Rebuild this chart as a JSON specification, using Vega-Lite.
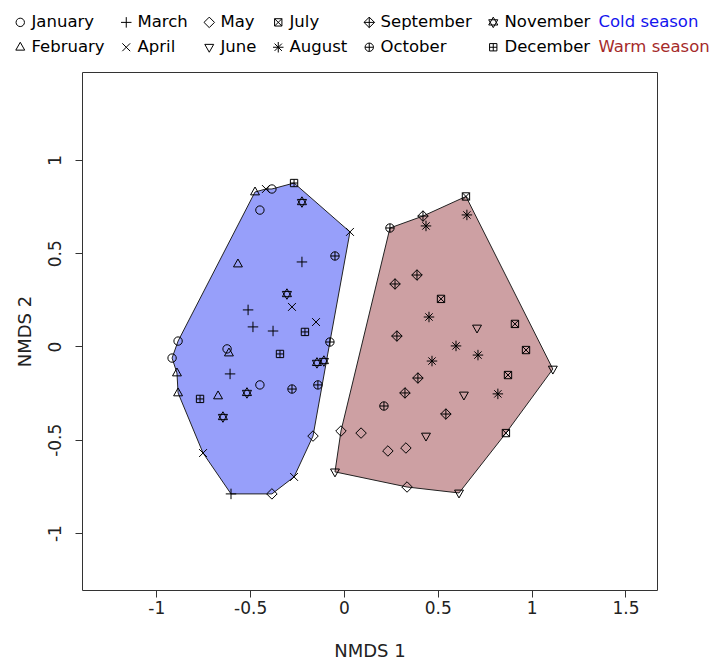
{
  "$schema": "https://vega.github.io/schema/vega-lite/v6.json",
  "width": 575,
  "height": 518,
  "autosize": {"type": "none"},
  "padding": {"left": 82, "top": 72, "right": 55, "bottom": 69},
  "background": "white",
  "datasets": {
    "hulls": [
      {"season": "Cold season", "i": 1, "x": -0.474, "y": 0.828},
      {"season": "Cold season", "i": 2, "x": -0.416, "y": 0.844},
      {"season": "Cold season", "i": 3, "x": -0.384, "y": 0.844},
      {"season": "Cold season", "i": 4, "x": -0.266, "y": 0.876},
      {"season": "Cold season", "i": 5, "x": 0.032, "y": 0.614},
      {"season": "Cold season", "i": 6, "x": -0.075, "y": 0.024},
      {"season": "Cold season", "i": 7, "x": -0.165, "y": -0.48},
      {"season": "Cold season", "i": 8, "x": -0.266, "y": -0.699},
      {"season": "Cold season", "i": 9, "x": -0.384, "y": -0.79},
      {"season": "Cold season", "i": 10, "x": -0.602, "y": -0.79},
      {"season": "Cold season", "i": 11, "x": -0.751, "y": -0.571},
      {"season": "Cold season", "i": 12, "x": -0.884, "y": -0.249},
      {"season": "Cold season", "i": 13, "x": -0.89, "y": -0.142},
      {"season": "Cold season", "i": 14, "x": -0.916, "y": -0.062},
      {"season": "Cold season", "i": 15, "x": -0.884, "y": 0.029},
      {"season": "Warm season", "i": 1, "x": 0.245, "y": 0.635},
      {"season": "Warm season", "i": 2, "x": 0.421, "y": 0.699},
      {"season": "Warm season", "i": 3, "x": 0.65, "y": 0.804},
      {"season": "Warm season", "i": 4, "x": 1.113, "y": -0.121},
      {"season": "Warm season", "i": 5, "x": 0.863, "y": -0.464},
      {"season": "Warm season", "i": 6, "x": 0.613, "y": -0.785},
      {"season": "Warm season", "i": 7, "x": 0.336, "y": -0.753},
      {"season": "Warm season", "i": 8, "x": -0.048, "y": -0.672},
      {"season": "Warm season", "i": 9, "x": -0.016, "y": -0.453}
    ],
    "points": [
      {"month": "January", "x": -0.884, "y": 0.029},
      {"month": "January", "x": -0.916, "y": -0.062},
      {"month": "January", "x": -0.623, "y": -0.013},
      {"month": "January", "x": -0.448, "y": -0.206},
      {"month": "January", "x": -0.448, "y": 0.731},
      {"month": "January", "x": -0.384, "y": 0.844},
      {"month": "February", "x": -0.474, "y": 0.828},
      {"month": "February", "x": -0.565, "y": 0.442},
      {"month": "February", "x": -0.613, "y": -0.035},
      {"month": "February", "x": -0.89, "y": -0.142},
      {"month": "February", "x": -0.884, "y": -0.249},
      {"month": "February", "x": -0.671, "y": -0.265},
      {"month": "March", "x": -0.224, "y": 0.453},
      {"month": "March", "x": -0.511, "y": 0.196},
      {"month": "March", "x": -0.485, "y": 0.105},
      {"month": "March", "x": -0.378, "y": 0.083},
      {"month": "March", "x": -0.607, "y": -0.147},
      {"month": "March", "x": -0.602, "y": -0.79},
      {"month": "April", "x": -0.416, "y": 0.844},
      {"month": "April", "x": 0.032, "y": 0.614},
      {"month": "April", "x": -0.277, "y": 0.212},
      {"month": "April", "x": -0.149, "y": 0.131},
      {"month": "April", "x": -0.751, "y": -0.571},
      {"month": "April", "x": -0.266, "y": -0.699},
      {"month": "May", "x": -0.165, "y": -0.48},
      {"month": "May", "x": -0.384, "y": -0.79},
      {"month": "May", "x": -0.016, "y": -0.453},
      {"month": "May", "x": 0.091, "y": -0.464},
      {"month": "May", "x": 0.234, "y": -0.56},
      {"month": "May", "x": 0.33, "y": -0.544},
      {"month": "May", "x": 0.336, "y": -0.753},
      {"month": "June", "x": -0.048, "y": -0.672},
      {"month": "June", "x": 0.437, "y": -0.48},
      {"month": "June", "x": 0.613, "y": -0.785},
      {"month": "June", "x": 0.639, "y": -0.26},
      {"month": "June", "x": 0.709, "y": 0.099},
      {"month": "June", "x": 1.113, "y": -0.121},
      {"month": "July", "x": 0.65, "y": 0.804},
      {"month": "July", "x": 0.517, "y": 0.255},
      {"month": "July", "x": 0.911, "y": 0.121},
      {"month": "July", "x": 0.97, "y": -0.019},
      {"month": "July", "x": 0.874, "y": -0.153},
      {"month": "July", "x": 0.863, "y": -0.464},
      {"month": "August", "x": 0.655, "y": 0.705},
      {"month": "August", "x": 0.437, "y": 0.646},
      {"month": "August", "x": 0.453, "y": 0.158},
      {"month": "August", "x": 0.597, "y": 0.003},
      {"month": "August", "x": 0.714, "y": -0.046},
      {"month": "August", "x": 0.469, "y": -0.078},
      {"month": "August", "x": 0.82, "y": -0.254},
      {"month": "September", "x": 0.421, "y": 0.699},
      {"month": "September", "x": 0.389, "y": 0.383},
      {"month": "September", "x": 0.272, "y": 0.335},
      {"month": "September", "x": 0.282, "y": 0.056},
      {"month": "September", "x": 0.394, "y": -0.169},
      {"month": "September", "x": 0.325, "y": -0.249},
      {"month": "September", "x": 0.543, "y": -0.362},
      {"month": "October", "x": -0.048, "y": 0.485},
      {"month": "October", "x": -0.075, "y": 0.024},
      {"month": "October", "x": -0.139, "y": -0.206},
      {"month": "October", "x": -0.277, "y": -0.228},
      {"month": "October", "x": 0.245, "y": 0.635},
      {"month": "October", "x": 0.213, "y": -0.319},
      {"month": "November", "x": -0.224, "y": 0.774},
      {"month": "November", "x": -0.304, "y": 0.281},
      {"month": "November", "x": -0.144, "y": -0.088},
      {"month": "November", "x": -0.107, "y": -0.078},
      {"month": "November", "x": -0.517, "y": -0.249},
      {"month": "November", "x": -0.645, "y": -0.378},
      {"month": "December", "x": -0.266, "y": 0.876},
      {"month": "December", "x": -0.208, "y": 0.078},
      {"month": "December", "x": -0.341, "y": -0.04},
      {"month": "December", "x": -0.767, "y": -0.281}
    ]
  },
  "layer": [
    {
      "data": {"name": "hulls"},
      "mark": {"type": "line", "interpolate": "linear-closed", "filled": true, "stroke": "#222222", "strokeWidth": 1, "opacity": 1},
      "encoding": {
        "x": {"field": "x", "type": "quantitative"},
        "y": {"field": "y", "type": "quantitative"},
        "order": {"field": "i", "type": "quantitative"},
        "color": {
          "field": "season", "type": "nominal",
          "scale": {"domain": ["Cold season", "Warm season"], "range": ["#979FFA", "#CDA0A3"]},
          "legend": {
            "orient": "none", "legendX": 500, "legendY": -58, "title": null,
            "direction": "vertical", "symbolSize": 0, "symbolOpacity": 0, "symbolStrokeWidth": 0,
            "labelOffset": 0, "rowPadding": 8, "padding": 0,
            "labelFont": "DejaVu Sans", "labelFontSize": 16.5,
            "labelColor": {"expr": "datum.value == 'Cold season' ? '#1414EE' : '#A52A2A'"}
          }
        }
      }
    },
    {
      "data": {"name": "points"},
      "mark": {"type": "point", "filled": false, "color": "black", "strokeWidth": 1, "size": 110, "opacity": 1},
      "encoding": {
        "x": {"field": "x", "type": "quantitative", "scale": {"domain": [-1.396, 1.668], "nice": false, "zero": false},
          "axis": {"title": "NMDS 1", "values": [-1, -0.5, 0, 0.5, 1, 1.5], "labelExpr": "toString(datum.value)", "labelPadding": 3, "titlePadding": 26}},
        "y": {"field": "y", "type": "quantitative", "scale": {"domain": [-1.305, 1.471], "nice": false, "zero": false},
          "axis": {"title": "NMDS 2", "values": [-1, -0.5, 0, 0.5, 1], "labelExpr": "toString(datum.value)", "labelAngle": -90, "labelAlign": "center", "labelBaseline": "bottom", "labelPadding": 11, "titlePadding": 12}},
        "shape": {
          "field": "month", "type": "nominal",
          "scale": {
            "domain": ["January", "March", "May", "July", "September", "November", "February", "April", "June", "August", "October", "December"],
            "range": [
              "M0.8,0A0.8,0.8 0 1,1 -0.8,0A0.8,0.8 0 1,1 0.8,0Z",
              "M-1,0L1,0M0,-1L0,1",
              "M0,-1L1,0L0,1L-1,0Z",
              "M-0.7,-0.7L0.7,-0.7L0.7,0.7L-0.7,0.7ZM-0.7,-0.7L0.7,0.7M-0.7,0.7L0.7,-0.7",
              "M0,-1L1,0L0,1L-1,0ZM-1,0L1,0M0,-1L0,1",
              "M0,-1L0.87,0.5L-0.87,0.5ZM0,1L0.87,-0.5L-0.87,-0.5Z",
              "M0,-0.95L0.85,0.55L-0.85,0.55Z",
              "M-0.75,-0.75L0.75,0.75M-0.75,0.75L0.75,-0.75",
              "M0,0.95L0.85,-0.55L-0.85,-0.55Z",
              "M-1,0L1,0M0,-1L0,1M-0.7,-0.7L0.7,0.7M-0.7,0.7L0.7,-0.7",
              "M0.8,0A0.8,0.8 0 1,1 -0.8,0A0.8,0.8 0 1,1 0.8,0ZM-0.8,0L0.8,0M0,-0.8L0,0.8",
              "M-0.7,-0.7L0.7,-0.7L0.7,0.7L-0.7,0.7ZM-0.7,0L0.7,0M0,-0.7L0,0.7"
            ]
          },
          "legend": {
            "orient": "none", "legendX": -70, "legendY": -58, "title": null,
            "direction": "horizontal", "columns": 6, "gridAlign": "each",
            "columnPadding": 13, "rowPadding": 8, "padding": 0,
            "symbolSize": 110, "symbolStrokeColor": "black", "symbolStrokeWidth": 1, "symbolFillColor": "transparent",
            "labelOffset": 3, "labelFont": "DejaVu Sans", "labelFontSize": 16.5, "labelColor": "black", "labelLimit": 200
          }
        }
      }
    }
  ],
  "config": {
    "font": "DejaVu Sans",
    "view": {"stroke": "#333333", "strokeWidth": 1},
    "axis": {
      "grid": false, "domain": false, "ticks": true, "tickSize": 7, "tickColor": "#333333", "tickWidth": 1,
      "labelFont": "DejaVu Sans", "labelFontSize": 17, "labelColor": "#222222",
      "titleFont": "DejaVu Sans", "titleFontSize": 18, "titleFontWeight": "normal", "titleColor": "#222222",
      "labelOverlap": false, "labelFlush": false
    }
  }
}
